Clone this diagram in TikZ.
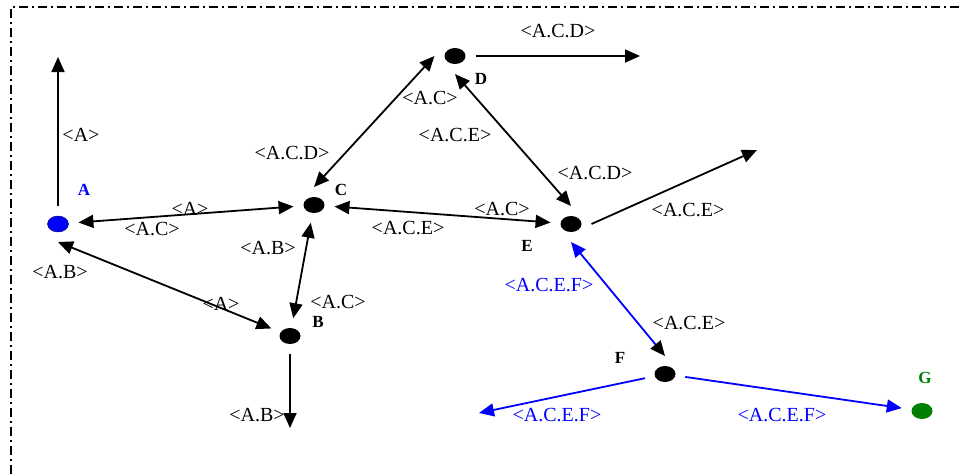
\documentclass[tikz,border=0pt]{standalone}
\usepackage{fontspec}
\setmainfont{Liberation Serif}
\usetikzlibrary{arrows.meta,shapes.geometric}
\definecolor{darkgreen}{RGB}{0,128,0}

\begin{document}
\begin{tikzpicture}[x=1pt, y=-1pt,
  %% ── Node styles ──────────────────────────────────────────────────────────
  %% dot : 21 x 16 px ellipse, outer sep keeps the arrows ~20 px off centre
  dot/.style={ellipse, fill=black, minimum width=21pt, minimum height=16pt,
              inner sep=0pt, outer sep=10pt},
  srcdot/.style={dot, fill=blue, draw=black!60!blue, thin},
  dstdot/.style={dot, fill=darkgreen},
  tag/.style={font=\fontsize{17}{19}\selectfont\bfseries, inner sep=0pt},
  lab/.style={font=\fontsize{20}{22}\selectfont, inner sep=0pt},
  %% ── Arrow styles ─────────────────────────────────────────────────────────
  arr/.style={-{Triangle[length=15pt, width=13pt]}, line width=1.8pt},
  biarr/.style={{Triangle[length=15pt, width=13pt]}-{Triangle[length=15pt, width=13pt]},
                line width=1.8pt},
  efarr/.style={{Triangle[length=15pt, width=13pt, color=blue]}-{Triangle[length=15pt, width=13pt, color=black]},
                line width=1.8pt, draw=blue},
  pageframe/.style={line width=1.2pt, dash pattern=on 9pt off 4pt on 2pt off 4pt}
]
\useasboundingbox (0,0) rectangle (960,474);

%% ── Frame (dash-dot, top and left only) ──────────────────────────────────────
\draw[pageframe] (11,474) -- (11,7) -- (960,7);

%% ── Routers ──────────────────────────────────────────────────────────────────
\node[srcdot] (A) at ( 58,224) {};
\node[dot]    (B) at (290,336) {};
\node[dot]    (C) at (314,205) {};
\node[dot]    (D) at (455, 56) {};
\node[dot]    (E) at (571,224) {};
\node[dot]    (F) at (665,374) {};
\node[dstdot] (G) at (922,411) {};

%% ── Free ends of the outgoing arrows ─────────────────────────────────────────
\coordinate (Aup)   at ( 58, 57);
\coordinate (Bdown) at (290,428);
\coordinate (Dout)  at (640, 56);
\coordinate (Eout)  at (757,150);
\coordinate (Fout)  at (479,413);

%% ── Router names ─────────────────────────────────────────────────────────────
\node[tag, text=blue]      (nA) at ( 84,190) {A};
\node[tag]                 (nB) at (318,322) {B};
\node[tag]                 (nC) at (341,190) {C};
\node[tag]                 (nD) at (481, 79) {D};
\node[tag]                 (nE) at (527,246) {E};
\node[tag]                 (nF) at (620,358) {F};
\node[tag, text=darkgreen] (nG) at (925,378) {G};

%% ── Arrows ───────────────────────────────────────────────────────────────────
\draw[arr]   (A) -- (Aup);
\draw[biarr] (A) -- (C);
\draw[biarr] (A.south) -- (B);
\draw[biarr] (C) -- (B);
\draw[biarr] (C.north) -- (D.west);
\draw[biarr] (C) -- (E);
\draw[arr]   (D) -- (Dout);
\draw[biarr] (D.south) -- (E.north);
\draw[arr]   (E.east) -- (Eout);
\draw[arr]   (B) -- (Bdown);
%% path to G in blue
\draw[efarr] (E.south) -- (F.north);
\draw[arr, blue] (F) -- (Fout);
\draw[arr, blue] (F) -- (G);

%% ── Path labels ──────────────────────────────────────────────────────────────
\node[lab] (l1)  at ( 81,135) {<A>};
\node[lab] (l2)  at (190,209) {<A>};
\node[lab] (l3)  at (152,229) {<A.C>};
\node[lab] (l4)  at ( 60,272) {<A.B>};
\node[lab] (l5)  at (221,304) {<A>};
\node[lab] (l6)  at (268,248) {<A.B>};
\node[lab] (l7)  at (338,302) {<A.C>};
\node[lab] (l8)  at (292,153) {<A.C.D>};
\node[lab] (l9)  at (430, 98) {<A.C>};
\node[lab] (l10) at (558, 31) {<A.C.D>};
\node[lab] (l11) at (455,135) {<A.C.E>};
\node[lab] (l12) at (595,173) {<A.C.D>};
\node[lab] (l13) at (502,209) {<A.C>};
\node[lab] (l14) at (408,228) {<A.C.E>};
\node[lab] (l15) at (688,210) {<A.C.E>};
\node[lab] (l16) at (257,415) {<A.B>};
\node[lab] (l17) at (689,323) {<A.C.E>};
\node[lab, text=blue] (l18) at (549,285) {<A.C.E.F>};
\node[lab, text=blue] (l19) at (557,415) {<A.C.E.F>};
\node[lab, text=blue] (l20) at (782,415) {<A.C.E.F>};

\end{tikzpicture}
\end{document}
